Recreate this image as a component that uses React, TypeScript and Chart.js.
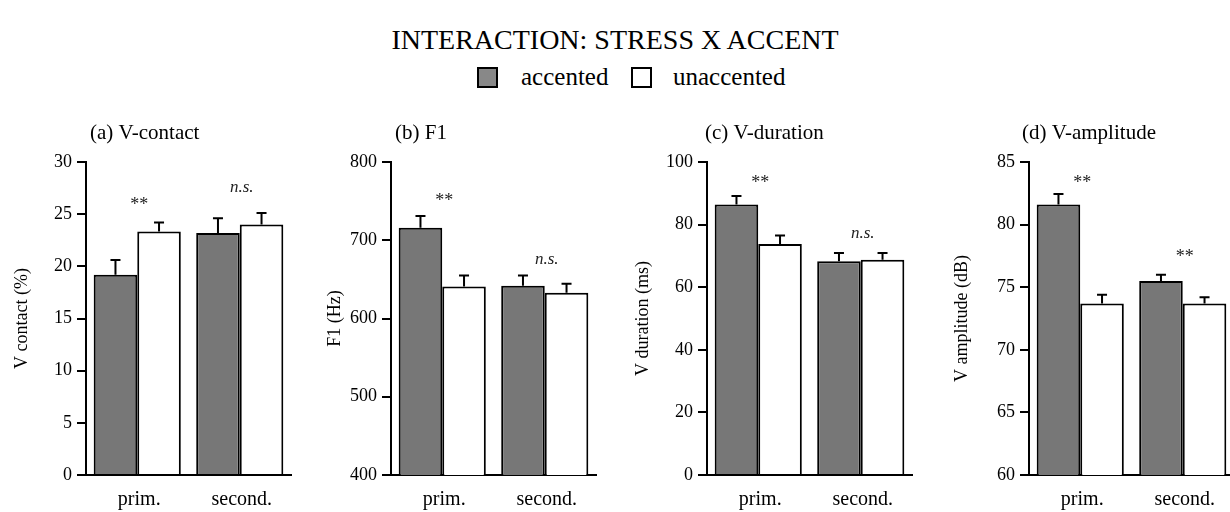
import React, { useEffect, useRef } from 'react';
import { Chart, registerables } from 'chart.js';

Chart.register(...registerables);

const FONT = '"Liberation Serif", "Times New Roman", serif';

const mainTitle = 'INTERACTION: STRESS X ACCENT';
const categories = ['prim.', 'second.'];
const seriesNames = ['accented', 'unaccented'];

// (a) V-contact
const contactAccented = [19.2, 23.2];
const contactAccentedErr = [1.4, 1.4];
const contactUnaccented = [23.35, 24.0];
const contactUnaccentedErr = [0.85, 1.1];
const contactMarks = ['**', 'n.s.'];
const contactTicks = [0, 30, 5];

// (b) F1
const f1Accented = [716, 642];
const f1AccentedErr = [15, 13];
const f1Unaccented = [641, 633];
const f1UnaccentedErr = [14, 11.5];
const f1Marks = ['**', 'n.s.'];
const f1Ticks = [400, 800, 100];

// (c) V-duration
const durAccented = [86.4, 68.3];
const durAccentedErr = [2.7, 2.6];
const durUnaccented = [73.8, 68.8];
const durUnaccentedErr = [2.7, 2.1];
const durMarks = ['**', 'n.s.'];
const durTicks = [0, 100, 20];

// (d) V-amplitude
const ampAccented = [81.6, 75.5];
const ampAccentedErr = [0.85, 0.5];
const ampUnaccented = [73.7, 73.7];
const ampUnaccentedErr = [0.7, 0.5];
const ampMarks = ['**', '**'];
const ampTicks = [60, 85, 5];

const panels = [
  { title: '(a) V-contact', yTitle: 'V contact (%)', ticks: contactTicks, acc: contactAccented, accErr: contactAccentedErr, un: contactUnaccented, unErr: contactUnaccentedErr, marks: contactMarks, axisX: 86, titlePad: 15.2, titleDx: 4, markGap: [21, 27] },
  { title: '(b) F1', yTitle: 'F1 (Hz)', ticks: f1Ticks, acc: f1Accented, accErr: f1AccentedErr, un: f1Unaccented, unErr: f1UnaccentedErr, marks: f1Marks, axisX: 391, titlePad: 23.2, titleDx: 4, markGap: [19, 17] },
  { title: '(c) V-duration', yTitle: 'V duration (ms)', ticks: durTicks, acc: durAccented, accErr: durAccentedErr, un: durUnaccented, unErr: durUnaccentedErr, marks: durMarks, axisX: 706.7, titlePad: 15.5, titleDx: -2, markGap: [17, 21] },
  { title: '(d) V-amplitude', yTitle: 'V amplitude (dB)', ticks: ampTicks, acc: ampAccented, accErr: ampAccentedErr, un: ampUnaccented, unErr: ampUnaccentedErr, marks: ampMarks, axisX: 1029.3, titlePad: 12.9, titleDx: -7, markGap: [15, 21] },
];

const ACC_COLOR = '#777777';
const UN_COLOR = '#ffffff';
const Y_AXIS_W = 90;
const CANVAS_TOP = 100;
const CANVAS_H = 412;
const CANVAS_W = 305;

const extrasPlugin = {
  id: 'extras',
  afterDatasetsDraw(chart: any, _args: any, opts: any) {
    const { ctx, chartArea } = chart;
    const yScale = chart.scales.y;
    const xScale = chart.scales.x;
    const errs = opts.errors as number[][];
    ctx.save();
    ctx.strokeStyle = '#000';
    ctx.lineWidth = 2;
    chart.data.datasets.forEach((ds: any, di: number) => {
      const meta = chart.getDatasetMeta(di);
      meta.data.forEach((bar: any, i: number) => {
        const v = ds.data[i];
        const e = errs[di][i];
        const yTop = yScale.getPixelForValue(v + e);
        const x = bar.x;
        ctx.beginPath();
        ctx.moveTo(x, bar.y);
        ctx.lineTo(x, yTop);
        ctx.moveTo(x - 5, yTop);
        ctx.lineTo(x + 5, yTop);
        ctx.stroke();
      });
    });
    (opts.marks as string[]).forEach((m, i) => {
      const top = Math.min(
        ...chart.data.datasets.map((ds: any, di: number) => yScale.getPixelForValue(ds.data[i] + errs[di][i]))
      );
      const x = xScale.getPixelForValue(i);
      const gap = opts.markGap[i];
      ctx.fillStyle = '#222';
      ctx.textAlign = 'center';
      ctx.textBaseline = 'middle';
      if (m === 'n.s.') {
        ctx.font = `italic 17px ${FONT}`;
        ctx.fillText(m, x + 2, top - gap + 1.5);
      } else {
        ctx.font = `18px ${FONT}`;
        ctx.fillText(m, x + 2, top - gap + 4);
      }
    });
    ctx.fillStyle = '#000';
    ctx.font = `21px ${FONT}`;
    ctx.textAlign = 'left';
    ctx.textBaseline = 'middle';
    ctx.fillText(opts.title, chartArea.left + opts.titleDx, chartArea.top - 29);
    ctx.restore();
  },
};

function Panel({ p }: { p: any }) {
  const ref = useRef<HTMLCanvasElement | null>(null);
  useEffect(() => {
    if (!ref.current) return;
    const [min, max, step] = p.ticks;
    const chart = new Chart(ref.current, {
      type: 'bar',
      data: {
        labels: categories,
        datasets: [
          { label: seriesNames[0], data: p.acc, backgroundColor: ACC_COLOR, borderColor: '#000', borderWidth: 2 },
          { label: seriesNames[1], data: p.un, backgroundColor: UN_COLOR, borderColor: '#000', borderWidth: 2 },
        ],
      },
      options: {
        responsive: false,
        animation: false,
        events: [],
        layout: { padding: { top: 62, bottom: 0, left: 0, right: CANVAS_W - Y_AXIS_W - 205 } },
        datasets: { bar: { barPercentage: 1, categoryPercentage: 0.85 } },
        plugins: {
          legend: { display: false },
          tooltip: { enabled: false },
          extras: { errors: [p.accErr, p.unErr], marks: p.marks, title: p.title, titleDx: p.titleDx, markGap: p.markGap },
        } as any,
        scales: {
          x: {
            ticks: { color: '#000', font: { size: 20, family: FONT }, padding: 5, labelOffset: 2 },
            grid: { display: false },
            border: { display: true, color: '#000', width: 2 },
            afterFit: (s: any) => { s.height = 37; },
          },
          y: {
            min, max,
            ticks: { stepSize: step, color: '#000', font: { size: 18, family: FONT }, padding: 5 },
            grid: { drawOnChartArea: false, drawTicks: true, tickLength: 9, color: '#000', lineWidth: 2 },
            border: { display: true, color: '#000', width: 2 },
            title: { display: true, text: p.yTitle, color: '#000', font: { size: 18, family: FONT }, padding: { top: p.titlePad, bottom: 0 } },
            afterFit: (s: any) => { s.width = Y_AXIS_W; },
          },
        },
      },
      plugins: [extrasPlugin],
    });
    return () => chart.destroy();
  }, [p]);
  return (
    <canvas
      ref={ref}
      width={CANVAS_W}
      height={CANVAS_H}
      style={{ position: 'absolute', left: p.axisX - Y_AXIS_W, top: CANVAS_TOP, width: CANVAS_W, height: CANVAS_H }}
    />
  );
}

export default function App() {
  const textBase: React.CSSProperties = { position: 'absolute', fontFamily: FONT, color: '#000', lineHeight: 1, whiteSpace: 'nowrap' };
  const sq = (bg: string, left: number): React.CSSProperties => ({
    position: 'absolute', left, top: 67, width: 21, height: 21, boxSizing: 'border-box', border: '2px solid #000', background: bg,
  });
  return (
    <div style={{ position: 'fixed', left: 0, top: 0, width: 1230, height: 512, overflow: 'hidden', background: '#fff' }}>
      <div style={{ ...textBase, left: 0, width: 1230, textAlign: 'center', top: 26, fontSize: 28 }}>{mainTitle}</div>
      <div style={sq('#888888', 477)} />
      <div style={{ ...textBase, left: 521, top: 64, fontSize: 25 }}>{seriesNames[0]}</div>
      <div style={sq(UN_COLOR, 631)} />
      <div style={{ ...textBase, left: 673, top: 64, fontSize: 25 }}>{seriesNames[1]}</div>
      {panels.map((p, i) => <Panel key={i} p={p} />)}
    </div>
  );
}
